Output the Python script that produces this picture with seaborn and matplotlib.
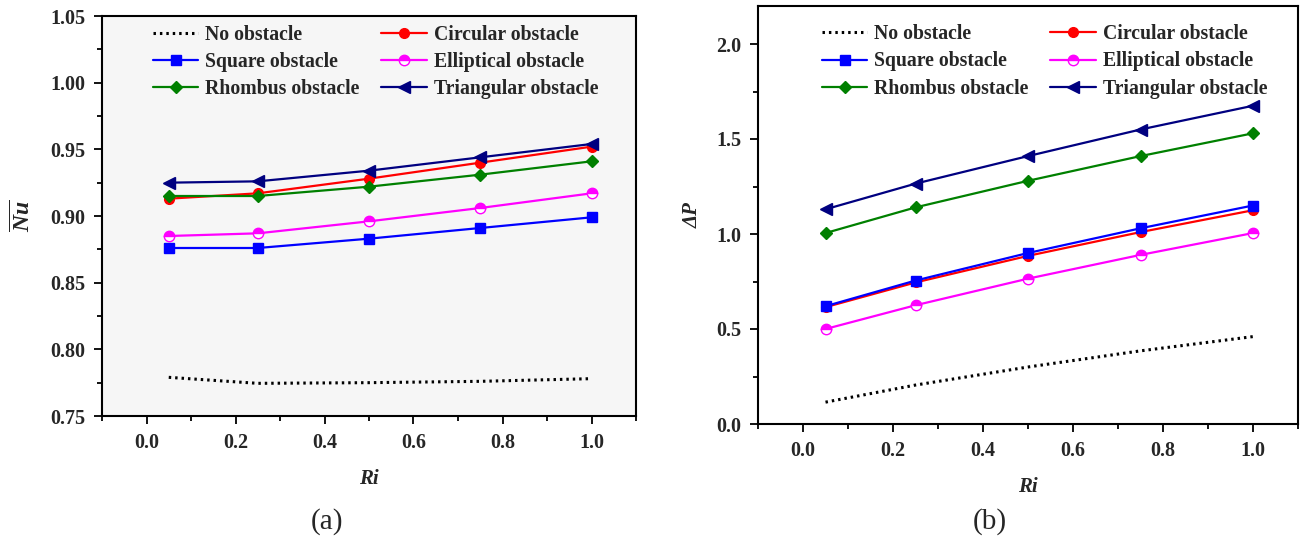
import numpy as np
import pandas as pd
import matplotlib
matplotlib.use('Agg')
import matplotlib.pyplot as plt
from matplotlib.ticker import MultipleLocator
import seaborn as sns

# data
ri = [0.05, 0.25, 0.5, 0.75, 1.0]
series_names = ['No obstacle', 'Circular obstacle', 'Square obstacle',
                'Elliptical obstacle', 'Rhombus obstacle', 'Triangular obstacle']

nu_none = [0.779, 0.7745, 0.775, 0.776, 0.778]
nu_circ = [0.913, 0.917, 0.928, 0.940, 0.952]
nu_square = [0.876, 0.876, 0.883, 0.891, 0.899]
nu_ellip = [0.885, 0.887, 0.896, 0.906, 0.917]
nu_rhomb = [0.915, 0.915, 0.922, 0.931, 0.941]
nu_tri = [0.925, 0.926, 0.934, 0.944, 0.954]

dp_none = [0.115, 0.205, 0.30, 0.385, 0.46]
dp_circ = [0.615, 0.745, 0.885, 1.01, 1.125]
dp_square = [0.62, 0.755, 0.90, 1.03, 1.15]
dp_ellip = [0.50, 0.625, 0.765, 0.89, 1.005]
dp_rhomb = [1.005, 1.14, 1.28, 1.41, 1.53]
dp_tri = [1.13, 1.265, 1.41, 1.55, 1.675]

nu_data = [nu_none, nu_circ, nu_square, nu_ellip, nu_rhomb, nu_tri]
dp_data = [dp_none, dp_circ, dp_square, dp_ellip, dp_rhomb, dp_tri]

# styles per series
colors = ['black', '#ff0000', '#0000ff', '#ff00ff', '#008000', '#000080']
markers = [None, 'o', 's', 'o', 'D', '<']
msizes = [0, 7, 7, 7.5, 6.5, 8]

sns.set_theme(style='ticks')
plt.rcParams['font.family'] = ['Liberation Serif', 'DejaVu Serif']
plt.rcParams['font.weight'] = 'bold'
plt.rcParams['mathtext.fontset'] = 'custom'
plt.rcParams['mathtext.it'] = 'Liberation Serif:italic:bold'
plt.rcParams['mathtext.rm'] = 'Liberation Serif:bold'


def draw_panel(ax, data, xlim, ylim, ymajor, yminor, yfmt):
    for name, vals, c, m, ms in zip(series_names, data, colors, markers, msizes):
        kw = dict(color=c, linewidth=1.6, label=name)
        if m is None:
            kw.update(linestyle=(0, (0.8, 1.3)), linewidth=2.2)
        else:
            kw.update(marker=m, markersize=ms, markeredgecolor=c, markeredgewidth=1.0)
            if name == 'Elliptical obstacle':
                kw.update(fillstyle='top', markerfacecoloralt='white', markerfacecolor=c)
        sns.lineplot(x=ri, y=vals, ax=ax, **kw)

    ax.set_xlim(*xlim)
    ax.set_ylim(*ylim)
    ax.xaxis.set_major_locator(MultipleLocator(0.2))
    ax.xaxis.set_minor_locator(MultipleLocator(0.1))
    ax.yaxis.set_major_locator(MultipleLocator(ymajor))
    ax.yaxis.set_minor_locator(MultipleLocator(yminor))
    ax.yaxis.set_major_formatter(plt.FormatStrFormatter(yfmt))
    ax.set_xticks([0.0, 0.2, 0.4, 0.6, 0.8, 1.0])
    ax.tick_params(which='major', direction='out', length=6, width=1.3,
                   labelsize=14.5, pad=6, color='black')
    ax.tick_params(which='minor', direction='out', length=3.5, width=1.3, color='black')
    ax.tick_params(top=False, right=False, which='both')
    for lab in ax.get_xticklabels() + ax.get_yticklabels():
        lab.set_fontweight('bold')
    for sp in ax.spines.values():
        sp.set_visible(True)
        sp.set_linewidth(1.5)
        sp.set_color('black')

    # legend rows: (No, Circular), (Square, Elliptical), (Rhombus, Triangular)
    handles, labels = ax.get_legend_handles_labels()
    order = [0, 2, 4, 1, 3, 5]
    return [handles[i] for i in order], [labels[i] for i in order]


fig = plt.figure(figsize=(13.03, 5.45), dpi=100)
ax1 = fig.add_axes([102 / 1303, 1 - 416 / 545, 534 / 1303, 400 / 545])
ax2 = fig.add_axes([758 / 1303, 1 - 424 / 545, 540 / 1303, 418 / 545])

leg1 = draw_panel(ax1, nu_data, (-0.1, 1.1), (0.75, 1.05), 0.05, 0.025, '%.2f')
leg2 = draw_panel(ax2, dp_data, (-0.1, 1.1), (0.0, 2.2), 0.5, 0.25, '%.1f')
ax1.set_facecolor('#f6f6f6')
ax2.set_facecolor('white')

ax1.set_xlabel('Ri', fontsize=15, fontweight='bold', fontstyle='italic', labelpad=12)
ax2.set_xlabel('Ri', fontsize=15, fontweight='bold', fontstyle='italic', labelpad=12)
ax1.set_ylabel(r'$\overline{Nu}$', fontsize=17, labelpad=11)
ax2.set_ylabel('ΔP', fontsize=15, fontweight='bold', fontstyle='italic', labelpad=10)

for ax, leg, anchor in [(ax1, leg1, (0.0955, 0.978)), (ax2, leg2, (0.1185, 0.956))]:
    ax.legend(leg[0], leg[1], loc='upper left', bbox_to_anchor=anchor, ncol=2,
              frameon=False, prop={'size': 14.2, 'weight': 'bold'}, handlelength=2.3,
              handletextpad=0.35, columnspacing=1.1, labelspacing=0.36,
              borderaxespad=0, borderpad=0)

fig.text(327 / 1303, 1 - 522 / 545, '(a)', fontsize=21, fontweight='normal',
         ha='center', va='center')
fig.text(990 / 1303, 1 - 522 / 545, '(b)', fontsize=21, fontweight='normal',
         ha='center', va='center')

fig.savefig('out.png', dpi=100)
